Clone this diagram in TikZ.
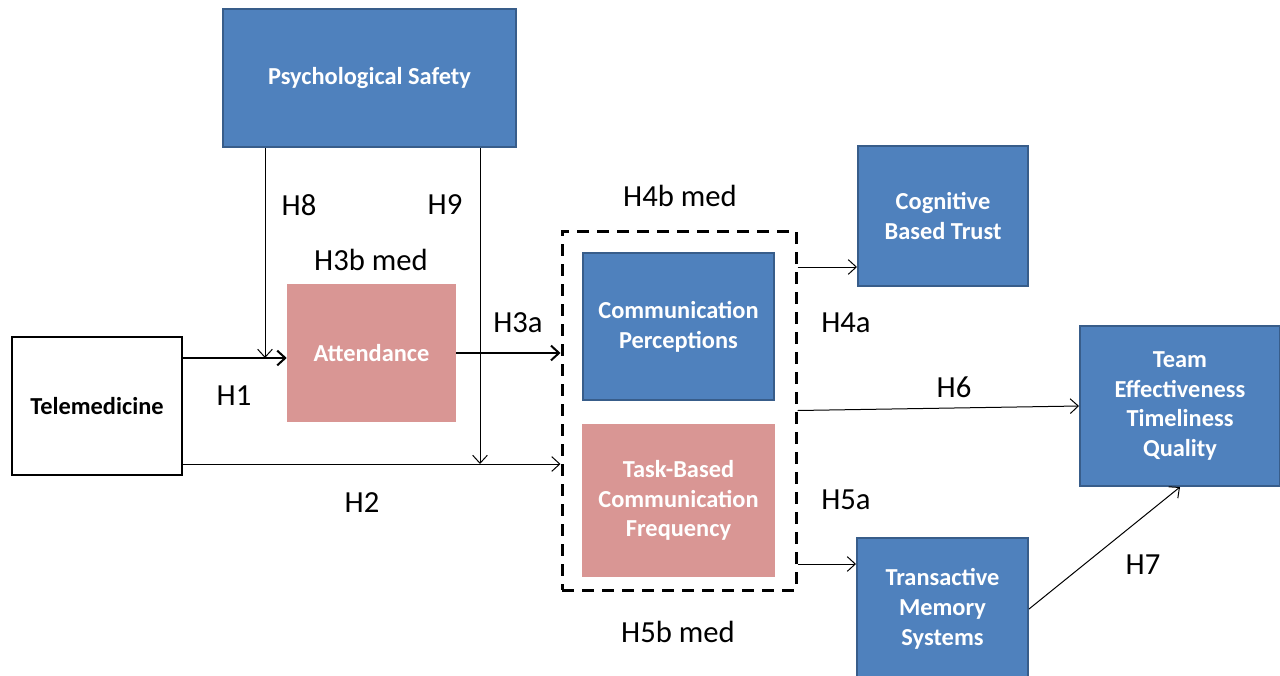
\documentclass[tikz,border=0pt]{standalone}
\usepackage{fontspec}
\setmainfont{Carlito}
\usetikzlibrary{arrows.meta,positioning,calc}
\definecolor{boxblue}{HTML}{4F81BD}
\definecolor{boxedge}{HTML}{385D8A}
\definecolor{boxpink}{HTML}{D99694}
\tikzset{%
  every hyp/.style={font=\fontsize{23}{28}\selectfont,inner sep=0pt},
}

\begin{document}
\begin{tikzpicture}[
            x=0.75pt,y=-0.75pt,
            bluebox/.style={
              draw=boxedge,
              fill=boxblue,
              line width=1.5pt,
              text=white,
              align=center,
              font=\bfseries\fontsize{18.3}{22.3}\selectfont
              },
            pinkbox/.style={
              draw=none,
              fill=boxpink,
              text=white,
              align=center,
              font=\bfseries\fontsize{18.3}{22.3}\selectfont
              },
            plainbox/.style={
              draw=black,
              fill=white,
              line width=1.5pt,
              align=center,
              font=\bfseries\fontsize{18.3}{22.3}\selectfont
              },
            group/.style={
              draw,
              line width=2.25pt,
              dash pattern=on 9pt off 6pt
              },
            link/.style={line width=0.75pt},
            heavy/.style={line width=1.5pt},
            >={Straight Barb[length=6pt,width=11pt]}
            ]
            \useasboundingbox (0,0) rectangle (1280,675);

            \node[bluebox,minimum width=219.75pt,minimum height=103.5pt] (psych) at (369.5,78) {Psychological Safety};
            \node[plainbox,minimum width=127.5pt,minimum height=103.5pt] (tele) at (97,406) {Telemedicine};
            \node[pinkbox,minimum width=126.75pt,minimum height=103.5pt] (attend) at (371.5,353) {Attendance};
            \node[group,minimum width=175.5pt,minimum height=269.25pt] (grp) at (679,410.5) {};
            \node[bluebox,minimum width=143.25pt,minimum height=110.25pt] (commper) at (678.5,326.5) {Communication\\Perceptions};
            \node[pinkbox,minimum width=144.75pt,minimum height=114.75pt] (taskfreq) at (678.5,500.5) {Task-Based\\Communication\\Frequency};
            \node[bluebox,minimum width=127.5pt,minimum height=105pt] (cogtrust) at (943,216) {Cognitive\\Based Trust};
            \node[bluebox,minimum width=150pt,minimum height=120pt] (teameff) at (1180,406) {Team\\Effectiveness\\Timeliness\\Quality};
            \node[bluebox,minimum width=128.25pt,minimum height=106.5pt] (tms) at (942.5,609) {Transactive\\Memory\\Systems};

            \coordinate (j8) at (265,358);
            \coordinate (j9) at (480,464);
            \coordinate (ctin) at ([yshift=-38.25pt]cogtrust.west);
            \coordinate (tmsin) at ([yshift=33.75pt]tms.west);

            \draw[->,heavy] (tele.east |- j8) -- (attend.west |- j8);
            \draw[->,link] (psych.south -| j8) -- (j8);
            \draw[->,link] (psych.south -| j9) -- (j9);
            \draw[->,link] (tele.east |- j9) -- (grp.west |- j9);
            \draw[->,heavy] (attend.east) -- (grp.west |- attend.east);
            \draw[->,link] (grp.east |- ctin) -- (ctin);
            \draw[->,link] (grp.east) -- (teameff.west);
            \draw[->,link] (grp.east |- tmsin) -- (tmsin);
            \draw[->,link] (tms.east) -- (teameff.south);

            \foreach \nm/\x/\y/\txt in {h8/299/205/H8,h9/445/205/H9,h3b/371/260/H3b med,h1/234/396/H1,h2/362/503/H2,h3a/518/323/H3a,h4b/680/196/H4b med,h4a/846/323/H4a,h6/954/387/H6,h5a/846/500/H5a,h5b/678/632/H5b med,h7/1143/565/H7}
              \node[every hyp] (lbl-\nm) at (\x,\y) {\txt};
        \end{tikzpicture}
\end{document}
